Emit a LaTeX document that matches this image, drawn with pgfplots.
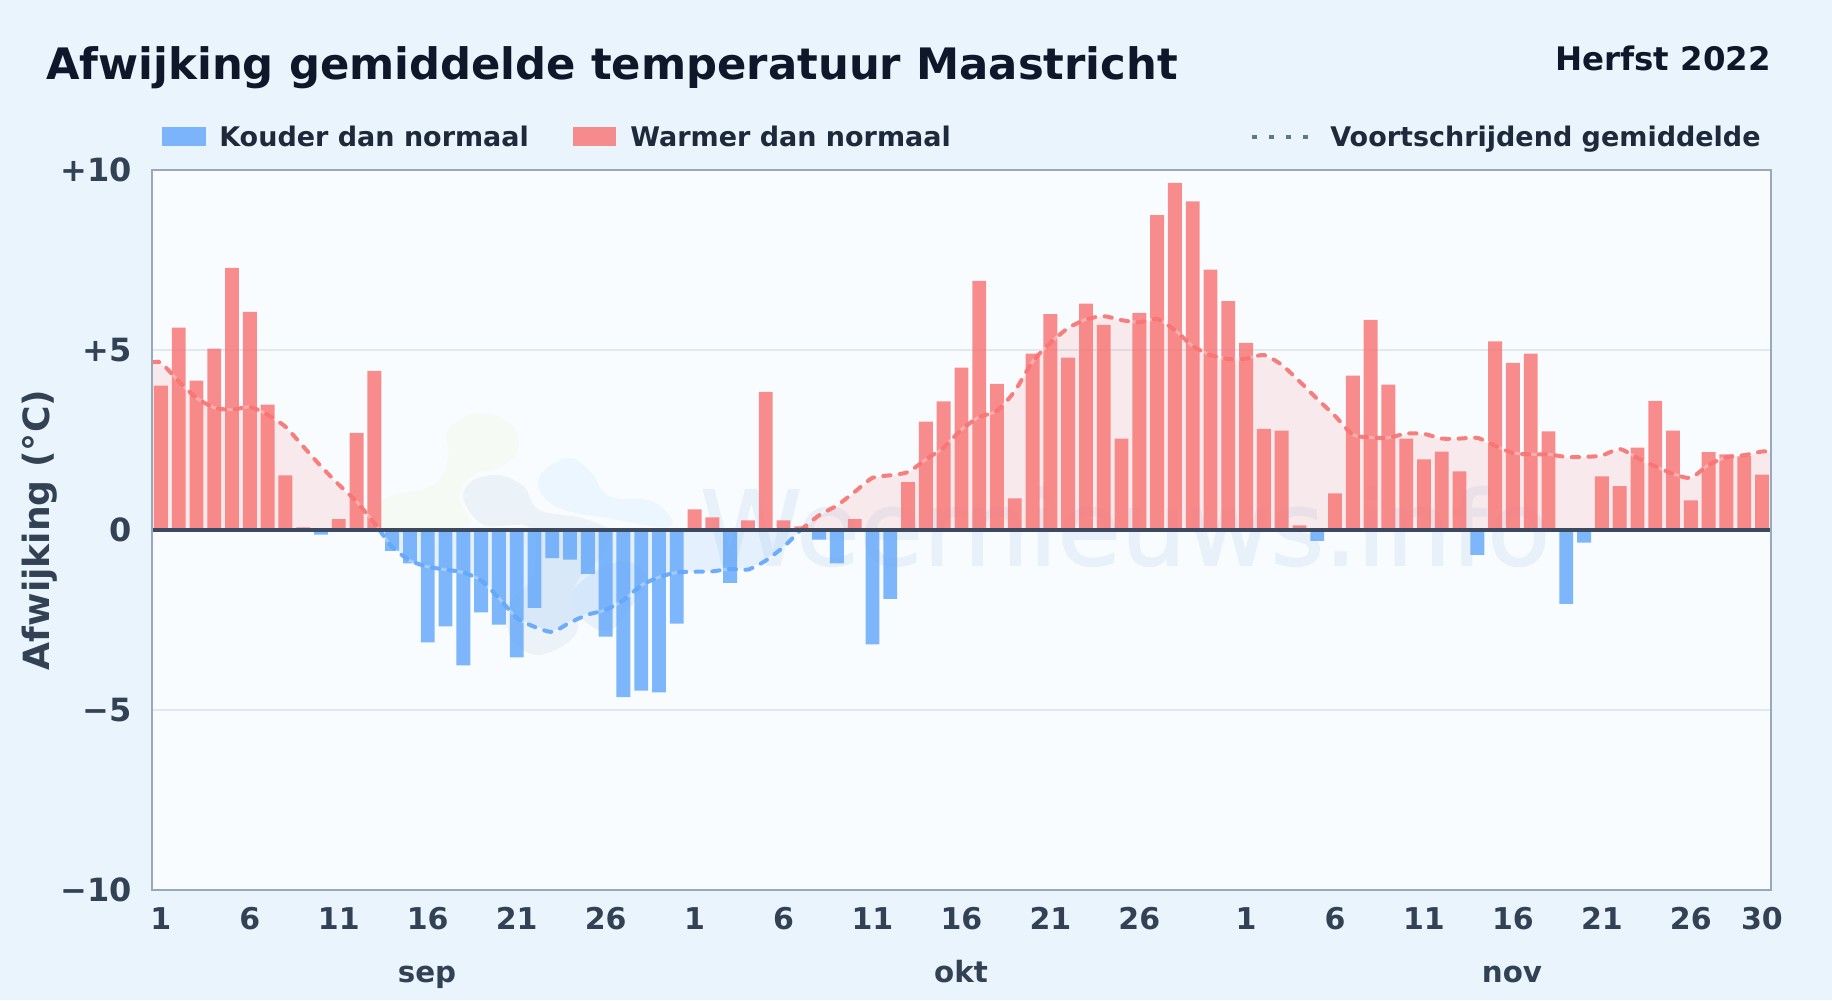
\documentclass[border=0pt]{standalone}
\usepackage{pgfplots}
\usepackage{pgfplotstable}
\pgfplotsset{compat=1.18}
\usepackage{fontspec}
\setmainfont{DejaVu Sans}
\newfontfamily\dvb{DejaVu Sans Bold}
\newfontfamily\wmfont[FakeBold=1.5]{DejaVu Sans}
\definecolor{bgc}{HTML}{E9F4FC}
\definecolor{plotbg}{HTML}{F8FCFF}
\definecolor{warm}{HTML}{F87171}
\definecolor{cold}{HTML}{60A5FA}
\definecolor{framec}{HTML}{9AA8BC}
\definecolor{gridc}{HTML}{E2E8F0}
\definecolor{zeroc}{HTML}{3B4A60}
\definecolor{tickc}{HTML}{334155}
\definecolor{titlec}{HTML}{0F172A}
\definecolor{legc}{HTML}{1E293B}
\definecolor{dotc}{HTML}{64748B}
\definecolor{wmtext}{HTML}{E8F1F9}
\definecolor{logogreen}{HTML}{F5FAF5}
\definecolor{logoblue}{HTML}{EBF6FE}
\definecolor{logogray}{HTML}{EBF2F8}
\definecolor{logomid}{HTML}{E7F1FB}
\pgfplotstableread{
x y
0.5 4.65
1 4.65
2 4.13
3 3.67
4 3.40
5 3.34
6 3.42
7 3.20
8 2.87
9 2.32
10 1.77
11 1.26
12 0.79
13 0.19
13.29 0
}\avgA
\pgfplotstableread{
x y
13.29 0
14 -0.47
15 -0.85
16 -1.02
17 -1.10
18 -1.18
19 -1.40
20 -1.89
21 -2.44
22 -2.69
23 -2.83
24 -2.57
25 -2.35
26 -2.22
27 -1.95
28 -1.54
29 -1.31
30 -1.18
31 -1.16
32 -1.15
33 -1.08
34 -1.10
35 -0.85
36 -0.47
36.96 0
}\avgB
\pgfplotstableread{
x y
36.96 0
38 0.41
39 0.68
40 1.06
41 1.45
42 1.52
43 1.61
44 1.96
45 2.29
46 2.79
47 3.14
48 3.31
49 3.86
50 4.68
51 5.20
52 5.61
53 5.85
54 5.94
55 5.83
56 5.77
57 5.86
58 5.55
59 5.11
60 4.86
61 4.75
62 4.76
63 4.86
64 4.59
65 4.13
66 3.64
67 3.17
68 2.65
69 2.57
70 2.56
71 2.68
72 2.67
73 2.54
74 2.54
75 2.56
76 2.34
77 2.14
78 2.10
79 2.10
80 2.03
81 2.03
82 2.07
83 2.25
84 2.00
85 1.77
86 1.56
87 1.45
88 1.81
89 2.02
90 2.08
91 2.18
91.5 2.18
}\avgC
\pgfplotstableread{
x y
1 4.01
2 5.62
3 4.15
4 5.04
5 7.28
6 6.06
7 3.48
8 1.52
9 0.07
11 0.30
12 2.70
13 4.42
31 0.57
32 0.35
34 0.27
35 3.84
36 0.27
37 0.10
40 0.30
43 1.33
44 3.01
45 3.57
46 4.51
47 6.92
48 4.06
49 0.88
50 4.90
51 6.00
52 4.79
53 6.29
54 5.70
55 2.54
56 6.03
57 8.75
58 9.64
59 9.13
60 7.23
61 6.36
62 5.20
63 2.81
64 2.76
65 0.13
67 1.02
68 4.29
69 5.84
70 4.04
71 2.54
72 1.96
73 2.18
74 1.63
76 5.24
77 4.64
78 4.90
79 2.74
82 1.49
83 1.22
84 2.29
85 3.59
86 2.76
87 0.82
88 2.16
89 2.10
90 2.05
91 1.54
}\warmbars
\pgfplotstableread{
x y
10 -0.13
14 -0.58
15 -0.93
16 -3.12
17 -2.68
18 -3.76
19 -2.29
20 -2.63
21 -3.54
22 -2.16
23 -0.78
24 -0.82
25 -1.22
26 -2.96
27 -4.64
28 -4.46
29 -4.51
30 -2.60
33 -1.47
38 -0.27
39 -0.93
41 -3.18
42 -1.91
66 -0.30
75 -0.69
80 -2.05
81 -0.35
}\coldbars
\pgfplotsset{
  halo/.style={white,line width=2.2pt,opacity=.3,smooth,tension=.4,forget plot},
  avgline/.style={#1,line width=3pt,opacity=.9,smooth,tension=.4,dash pattern=on 5.5pt off 7pt,line cap=round},
}
\begin{document}
\begin{tikzpicture}
\begin{scope}[x=0.75pt,y=-0.75pt]
\fill[bgc] (0,0) rectangle (1832,1000);
\path[use as bounding box] (0,0) rectangle (1832,1000);
\fill[plotbg] (152,170) rectangle (1771,890);
% faint logo
\begin{scope}[shift={(370,390)},x=0.25pt,y=-0.25pt]
\fill[logogreen] plot[smooth cycle,tension=.7] coordinates {(35,420)(40,330)(190,285)(235,200)(235,120)(330,70)(430,110)(440,190)(380,235)(300,270)(280,420)};
\fill[logoblue] plot[smooth cycle,tension=.7] coordinates {(505,270)(590,205)(660,245)(720,320)(850,335)(900,410)(720,385)(560,350)};
\filldraw[fill=logogray,draw=plotbg,line width=2.5pt] plot[smooth cycle,tension=.6] coordinates {(275,330)(300,270)(385,250)(465,285)(510,355)(640,380)(730,425)(690,510)(620,590)(625,730)(510,800)(420,750)(410,640)(480,560)(480,420)(340,410)};
\fill[logomid] plot[smooth cycle,tension=.7] coordinates {(605,620)(660,555)(760,515)(830,560)(790,640)(720,720)(640,690)};
\end{scope}
\node[anchor=base west,inner sep=0pt,text=wmtext,font=\wmfont\fontsize{77.3}{80}\selectfont] at (700,565) {Weernieuws.info};
% title
\node[anchor=base west,inner sep=0pt,text=titlec,font=\dvb\fontsize{32.5}{32.5}\selectfont] at (46,79) {Afwijking gemiddelde temperatuur Maastricht};
\node[anchor=base east,inner sep=0pt,text=titlec,font=\dvb\fontsize{24.3}{24.3}\selectfont] at (1771,70) {Herfst 2022};
% legend
\fill[cold,opacity=.8] (162,127) rectangle (206,146);
\node[anchor=base west,inner sep=0pt,text=legc,font=\dvb\fontsize{20.25}{20.25}\selectfont] at (219,146) {Kouder dan normaal};
\fill[warm,opacity=.8] (573,127) rectangle (616,146);
\node[anchor=base west,inner sep=0pt,text=legc,font=\dvb\fontsize{20.25}{20.25}\selectfont] at (630,146) {Warmer dan normaal};
\draw[dotc,line width=3pt,dash pattern=on 3.8pt off 9pt] (1252,137) -- (1310,137);
\node[anchor=base west,inner sep=0pt,text=legc,font=\dvb\fontsize{20.25}{20.25}\selectfont] at (1330,146) {Voortschrijdend gemiddelde};
\node[rotate=90,inner sep=0pt,text=tickc,font=\dvb\fontsize{27.1}{27.1}\selectfont] at (40,530) {Afwijking (°C)};
\end{scope}
\begin{axis}[
  at={(114pt,-667.5pt)},anchor=south west,
  scale only axis,width=1214.25pt,height=540pt,
  xmin=0.5,xmax=91.5,ymin=-10,ymax=10,
  axis line style={draw=none},
  major tick length=0pt,
  ytick={-10,-5,0,5,10},
  yticklabels={−10,−5,0,+5,+10},
  ymajorgrids,
  grid style={gridc,line width=1.1pt},
  xtick={1,6,11,16,21,26,31,36,41,46,51,56,62,67,72,77,82,87,91},
  xticklabels={1,6,11,16,21,26,1,6,11,16,21,26,1,6,11,16,21,26,30},
  xticklabel style={text=tickc,font=\dvb\fontsize{22.5}{22.5}\selectfont,yshift=-9.5pt},
  yticklabel style={text=tickc,font=\dvb\fontsize{24}{24}\selectfont,xshift=-11.5pt},
]
\addplot[draw=none,fill=warm,fill opacity=.13,forget plot] table {\avgA} \closedcycle;
\addplot[draw=none,fill=cold,fill opacity=.13,forget plot] table {\avgB} \closedcycle;
\addplot[draw=none,fill=warm,fill opacity=.13,forget plot] table {\avgC} \closedcycle;
\addplot[ybar,bar width=10.4pt,bar shift=0pt,draw=none,fill=warm,fill opacity=.8] table {\warmbars};
\addplot[ybar,bar width=10.4pt,bar shift=0pt,draw=none,fill=cold,fill opacity=.8] table {\coldbars};
\addplot[halo] table {\avgA};
\addplot[halo] table {\avgB};
\addplot[halo] table {\avgC};
\addplot[avgline=warm] table {\avgA};
\addplot[avgline=cold] table {\avgB};
\addplot[avgline=warm] table {\avgC};
\addplot[zeroc,line width=2.6pt] coordinates {(0.5,0) (91.5,0)};
\end{axis}
\begin{scope}[x=0.75pt,y=-0.75pt]
\draw[color=framec,line width=2.1pt] (152,170) rectangle (1771,890);
\node[anchor=base,inner sep=0pt,text=tickc,font=\dvb\fontsize{22}{22}\selectfont] at (427,982) {sep};
\node[anchor=base,inner sep=0pt,text=tickc,font=\dvb\fontsize{22}{22}\selectfont] at (961,982) {okt};
\node[anchor=base,inner sep=0pt,text=tickc,font=\dvb\fontsize{22}{22}\selectfont] at (1512,982) {nov};
\end{scope}
\end{tikzpicture}
\end{document}
